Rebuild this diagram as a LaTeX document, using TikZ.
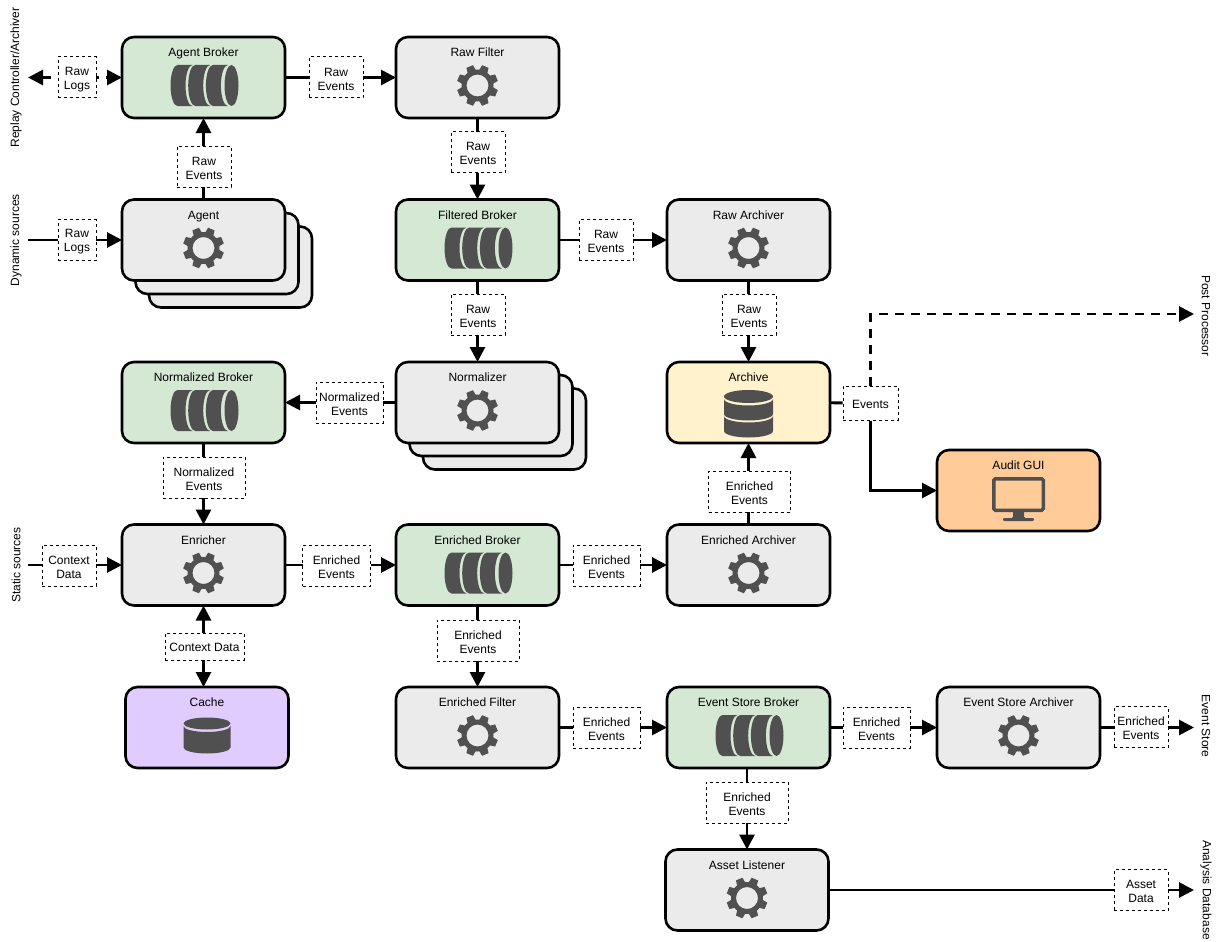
\documentclass[tikz,border=0pt]{standalone}
\usepackage{fontspec}
\setmainfont{Liberation Sans}
\usepackage{xcolor}
\usetikzlibrary{arrows.meta,backgrounds,calc}
\definecolor{brokergreen}{HTML}{D5E8D4}
\definecolor{procgrey}{HTML}{EBEBEB}
\definecolor{archiveyellow}{HTML}{FFF2CC}
\definecolor{guiorange}{HTML}{FFCC99}
\definecolor{cachepurple}{HTML}{E1CCFF}
\definecolor{icongrey}{HTML}{505050}
\tikzset{
  box/.style={draw,line width=2.6pt,rounded corners=12pt,inner sep=0pt,outer sep=0pt,minimum width=163pt,minimum height=81pt,text height=19.5pt,text depth=61.5pt,font=\fontsize{12}{14}\selectfont},
  proc/.style={box,fill=procgrey},
  broker/.style={box,fill=brokergreen},
  tag/.style={draw,line width=1pt,dash pattern=on 3pt off 3pt,fill=white,inner sep=0pt,minimum width=#1,minimum height=41pt,align=center,text height=26pt,font=\fontsize{12}{14}\selectfont},
  tag/.default=54pt,
  shorttag/.style={tag=#1,text height=11pt},
  sidetext/.style={font=\fontsize{12}{14}\selectfont,inner sep=0pt},
  conn/.style={line width=2.8pt,-{Triangle[length=15pt,width=15pt]}},
  dashconn/.style={conn,dash pattern=on 8.5pt off 7.5pt},
  gearicon/.pic={
    \fill[icongrey,even odd rule] (0,0) circle[radius=16pt] (0,0) circle[radius=11pt];
    \foreach \a in {22.5,67.5,...,337.5}
      \fill[icongrey,rotate=\a] (14,-4.5) -- (20.5,-3.5) -- (20.5,3.5) -- (14,4.5) -- cycle;
  },
  brokericon/.pic={
    \foreach \a in {-26,-8.3,9.4}
      \fill[icongrey] (\a,20.5) arc[start angle=90,end angle=270,x radius=7pt,y radius=20.5pt] -- (\a+15,-20.5) arc[start angle=270,end angle=90,x radius=7pt,y radius=20.5pt] -- cycle;
    \fill[icongrey] (28,0) ellipse[x radius=7pt,y radius=20.5pt];
  },
  archiveicon/.pic={
    \fill[icongrey] (0,6) ellipse[x radius=24.5pt,y radius=6.5pt];
    \fill[icongrey] (-24.5,3.5) arc[start angle=180,end angle=360,x radius=24.5pt,y radius=6.5pt] -- (24.5,-11.5) arc[start angle=0,end angle=-180,x radius=24.5pt,y radius=6.5pt] -- cycle;
    \fill[icongrey] (-24.5,-13.5) arc[start angle=180,end angle=360,x radius=24.5pt,y radius=6.5pt] -- (24.5,-28.5) arc[start angle=0,end angle=-180,x radius=24.5pt,y radius=6.5pt] -- cycle;
  },
  cacheicon/.pic={
    \fill[icongrey] (0,4) ellipse[x radius=23.5pt,y radius=6pt];
    \fill[icongrey] (-23.5,1.5) arc[start angle=180,end angle=360,x radius=23.5pt,y radius=6pt] -- (23.5,-20) arc[start angle=0,end angle=-180,x radius=23.5pt,y radius=6pt] -- cycle;
  },
  monitoricon/.pic={
    \draw[icongrey,line width=3.5pt,rounded corners=1.5pt] (-24.75,19.75) rectangle (24.75,-11.75);
    \fill[icongrey] (-5.5,-13) -- (5.5,-13) -- (5.5,-18) -- (7,-20) -- (-7,-20) -- (-5.5,-18) -- cycle;
    \fill[icongrey,rounded corners=1.2pt] (-15.5,-19.5) rectangle (15.5,-22.5);
  }
}
\begin{document}
\begin{tikzpicture}[x=1pt,y=1pt]
\useasboundingbox (0,0) rectangle (1219,-942);
% stacked copies first
\node[proc] (agentc) at (230.5,-267) {};
\node[proc] (agentb) at (217,-253.5) {};
\node[proc] (normalizerc) at (504.5,-429) {};
\node[proc] (normalizerb) at (491,-415.5) {};
% boxes
\node[broker] (agentbroker) at (203.5,-77.5) {Agent Broker};
\node[proc] (rawfilter) at (477.5,-77.5) {Raw Filter};
\node[proc] (agent) at (203.5,-240) {Agent};
\node[broker] (filteredbroker) at (477.5,-240) {Filtered Broker};
\node[proc] (rawarchiver) at (748.5,-240) {Raw Archiver};
\node[broker] (normalizedbroker) at (203.5,-402.5) {Normalized Broker};
\node[proc] (normalizer) at (477.5,-402.5) {Normalizer};
\node[box,fill=archiveyellow] (archive) at (748.5,-402.5) {Archive};
\node[box,fill=guiorange] (auditgui) at (1018.5,-490.5) {Audit GUI};
\node[proc] (enricher) at (203.5,-565) {Enricher};
\node[broker] (enrichedbroker) at (477.5,-565) {Enriched Broker};
\node[proc] (enrichedarchiver) at (748.5,-565) {Enriched Archiver};
\node[box,fill=cachepurple] (cache) at (207,-727.5) {Cache};
\node[proc] (enrichedfilter) at (477.5,-727.5) {Enriched Filter};
\node[broker] (eventbroker) at (748.5,-727.5) {Event Store Broker};
\node[proc] (eventarchiver) at (1018.5,-727.5) {Event Store Archiver};
\node[proc] (assetlistener) at (747,-890) {Asset Listener};
% icons
\foreach \n in {rawfilter,agent,rawarchiver,normalizer,enricher,enrichedarchiver,enrichedfilter,eventarchiver,assetlistener}
  \pic at ([yshift=-8pt]\n.center) {gearicon};
\foreach \n in {agentbroker,filteredbroker,normalizedbroker,enrichedbroker,eventbroker}
  \pic at ([yshift=-8pt]\n.center) {brokericon};
\pic at (archive.center) {archiveicon};
\pic at (cache.center) {cacheicon};
\pic at ([yshift=-8pt]auditgui.center) {monitoricon};
% labels on the lines
\node[tag=38pt] (tagreplay) at (77,-77.5) {Raw\\Logs};
\node[tag] (tagrawa) at (336,-77.5) {Raw\\Events};
\node[tag] (tagrawb) at (204,-166.5) {Raw\\Events};
\node[tag] (tagrawc) at (478,-152) {Raw\\Events};
\node[tag=38pt] (tagdynamic) at (77,-240) {Raw\\Logs};
\node[tag] (tagrawd) at (606,-240) {Raw\\Events};
\node[tag] (tagrawe) at (478,-314.5) {Raw\\Events};
\node[tag] (tagrawf) at (749,-314.5) {Raw\\Events};
\node[tag=67pt] (tagnorma) at (349.5,-402.5) {Normalized\\Events};
\node[shorttag=55pt,minimum height=34pt] (tagevents) at (870.5,-403) {Events};
\node[tag=82pt] (tagnormb) at (204,-477.5) {Normalized\\Events};
\node[tag=82pt] (tagenra) at (749.5,-491.5) {Enriched\\Events};
\node[tag] (tagstatic) at (69,-565.5) {Context\\Data};
\node[tag=68pt] (tagenrb) at (336.5,-565.5) {Enriched\\Events};
\node[tag=67pt] (tagenrc) at (606.5,-565.5) {Enriched\\Events};
\node[shorttag=79pt,minimum height=27pt] (tagcontext) at (204.5,-646.5) {Context Data};
\node[tag=82pt] (tagenrd) at (478,-640.5) {Enriched\\Events};
\node[tag=67pt] (tagenre) at (606.5,-728) {Enriched\\Events};
\node[tag=67pt] (tagenrf) at (876.5,-727.5) {Enriched\\Events};
\node[tag] (tagenrg) at (1141,-727) {Enriched\\Events};
\node[tag=82pt] (tagenrh) at (747,-802.5) {Enriched\\Events};
\node[tag] (tagasset) at (1141,-890) {Asset\\Data};
% side texts
\node[sidetext,rotate=90] (replaytext) at (16,-77.5) {Replay Controller/Archiver};
\node[sidetext,rotate=90] (dynamictext) at (16,-240) {Dynamic sources};
\node[sidetext,rotate=90] (statictext) at (16,-565) {Static sources};
\node[sidetext,rotate=-90] (posttext) at (1206,-316) {Post Processor};
\node[sidetext,rotate=-90] (storetext) at (1206,-726) {Event Store};
\node[sidetext,rotate=-90] (analysistext) at (1206,-890) {Analysis Database};
% free ends
\coordinate (replayend) at (28,-77.5);
\coordinate (dynamicend) at (28,-240);
\coordinate (staticend) at (28,-565);
\coordinate (postend) at (1194,-314);
\coordinate (storeend) at (1194,-727.5);
\coordinate (analysisend) at (1194,-890);
% connectors
\begin{scope}[on background layer]
\draw[dashconn,{Triangle[length=15pt,width=15pt]}-{Triangle[length=15pt,width=15pt]}] (replayend) -- (agentbroker);
\draw[conn] (agentbroker) -- (rawfilter);
\draw[conn] (agent) -- (agentbroker);
\draw[conn] (rawfilter) -- (filteredbroker);
\draw[conn] (dynamicend) -- (agent);
\draw[conn] (filteredbroker) -- (rawarchiver);
\draw[conn] (filteredbroker) -- (normalizer);
\draw[conn] (rawarchiver) -- (archive);
\draw[conn] (normalizer) -- (normalizedbroker);
\draw[line width=2.8pt] (archive) -- (tagevents);
\draw[dashconn] (tagevents) |- (postend);
\draw[conn] (tagevents) |- (auditgui);
\draw[conn] (normalizedbroker) -- (enricher);
\draw[conn] (enrichedarchiver) -- (archive);
\draw[conn] (staticend) -- (enricher);
\draw[conn] (enricher) -- (enrichedbroker);
\draw[conn] (enrichedbroker) -- (enrichedarchiver);
\draw[conn,{Triangle[length=15pt,width=15pt]}-{Triangle[length=15pt,width=15pt]}] (enricher.south) -- (enricher.south |- cache.north);
\draw[conn] (enrichedbroker) -- (enrichedfilter);
\draw[conn] (enrichedfilter) -- (eventbroker);
\draw[conn] (eventbroker) -- (eventarchiver);
\draw[conn] (eventarchiver) -- (storeend);
\draw[conn] (assetlistener |- eventbroker.south) -- (assetlistener);
\draw[conn] (assetlistener) -- (analysisend);
\end{scope}
\end{tikzpicture}
\end{document}
